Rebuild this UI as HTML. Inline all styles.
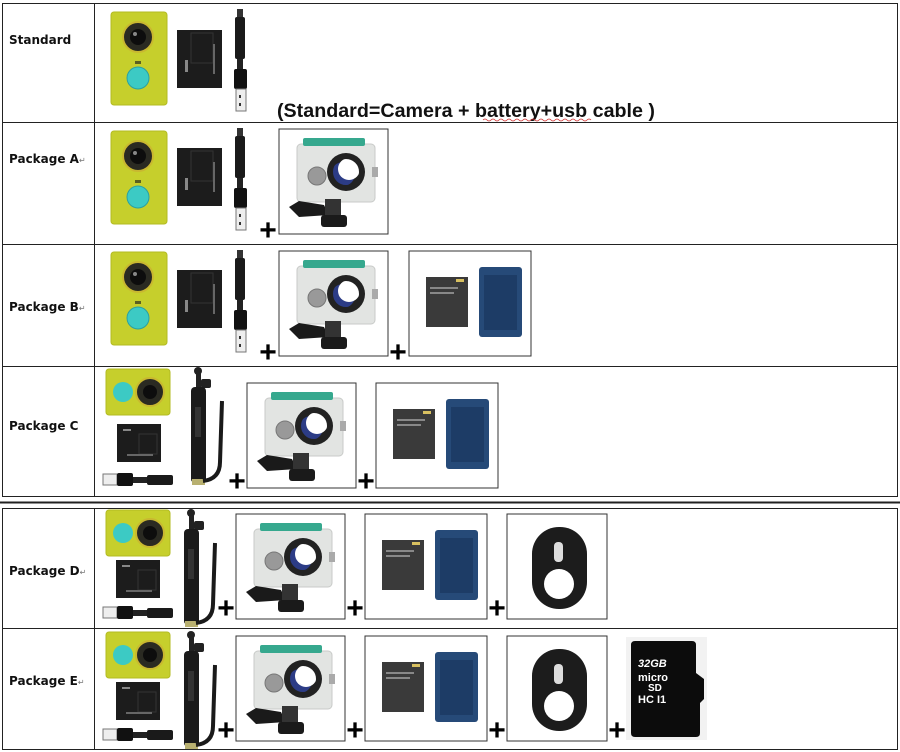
<!DOCTYPE html>
<html><head><meta charset="utf-8"><style>
html,body{margin:0;padding:0;background:#fff;width:900px;height:752px;overflow:hidden}
svg{display:block}
</style></head><body>
<svg width="900" height="752" viewBox="0 0 900 752" xmlns="http://www.w3.org/2000/svg">
<defs>
<g id="camP">
<rect x="0" y="0" width="56" height="93" rx="3" fill="#c6cf2c" stroke="#b3bb22"/>
<circle cx="27" cy="25" r="15" fill="#2a2a22" stroke="#c9b830" stroke-width="2"/>
<circle cx="27" cy="25" r="8" fill="#0d0d0d"/>
<circle cx="24" cy="22" r="2" fill="#888"/>
<circle cx="27" cy="66" r="11" fill="#3ccac4" stroke="#2aa0a0"/>
<rect x="24" y="49" width="6" height="3" fill="#5a6020"/>
</g>
<g id="camL">
<rect x="0" y="0" width="64" height="46" rx="3" fill="#c6cf2c" stroke="#b3bb22"/>
<circle cx="17" cy="23" r="10" fill="#3ccac4"/>
<circle cx="44" cy="23" r="14" fill="#2a2a22" stroke="#c9b830" stroke-width="2"/>
<circle cx="44" cy="23" r="7" fill="#0d0d0d"/>
</g>
<g id="bat">
<rect x="0" y="0" width="45" height="58" fill="#1c1c1c"/>
<rect x="14" y="3" width="22" height="30" fill="none" stroke="#333"/>
<rect x="36" y="14" width="2" height="30" fill="#666"/>
<rect x="8" y="30" width="3" height="12" fill="#888"/>
</g>
<g id="batS">
<rect x="0" y="0" width="44" height="38" fill="#1c1c1c"/>
<rect x="22" y="10" width="18" height="20" fill="none" stroke="#333"/>
<rect x="6" y="5" width="8" height="2" fill="#888"/>
<rect x="10" y="30" width="26" height="2" fill="#666"/>
</g>
<g id="usbV">
<rect x="5" y="0" width="6" height="8" fill="#333"/>
<rect x="3" y="8" width="10" height="42" rx="2" fill="#1a1a1a"/>
<rect x="5" y="50" width="6" height="12" fill="#222"/>
<rect x="2" y="60" width="13" height="20" rx="2" fill="#111"/>
<rect x="4" y="80" width="10" height="22" fill="#eee" stroke="#777"/>
<rect x="7" y="86" width="2" height="3" fill="#333"/><rect x="7" y="94" width="2" height="3" fill="#333"/>
</g>
<g id="usbH">
<rect x="0" y="2" width="14" height="11" fill="#eee" stroke="#777"/>
<rect x="14" y="1" width="16" height="13" rx="2" fill="#111"/>
<rect x="30" y="5" width="14" height="6" fill="#222"/>
<rect x="44" y="3" width="26" height="10" rx="2" fill="#1a1a1a"/>
</g>
<g id="stick">
<circle cx="12" cy="4" r="4" fill="#222"/>
<rect x="10" y="6" width="5" height="14" fill="#222"/>
<rect x="15" y="12" width="10" height="9" rx="2" fill="#222"/>
<rect x="5" y="20" width="15" height="96" rx="4" fill="#1a1a1a"/>
<rect x="9" y="40" width="6" height="30" fill="#333"/>
<rect x="6" y="112" width="13" height="6" fill="#b8b070"/>
<path d="M17 114 Q34 112 34 95 L36 34" fill="none" stroke="#1a1a1a" stroke-width="4"/>
</g>
<g id="housing">
<rect x="0" y="0" width="109" height="105" fill="#fff" stroke="#333"/>
<rect x="18" y="15" width="78" height="58" rx="4" fill="#e2e4e2" stroke="#c8cac8"/>
<rect x="24" y="9" width="62" height="8" rx="2" fill="#36a88e"/>
<circle cx="67" cy="43" r="19" fill="#222"/>
<circle cx="64" cy="45" r="12" fill="#2c3c86"/>
<circle cx="70" cy="40" r="11" fill="#fff"/>
<circle cx="67" cy="43" r="15" fill="none" stroke="#222" stroke-width="4"/>
<circle cx="38" cy="47" r="9" fill="#999" stroke="#777"/>
<rect x="93" y="38" width="6" height="10" fill="#aaa"/>
<path d="M10 78 L20 72 L45 76 L50 86 L20 88 Z" fill="#1a1a1a"/>
<rect x="46" y="70" width="16" height="18" fill="#333"/>
<rect x="42" y="86" width="26" height="12" rx="3" fill="#1a1a1a"/>
</g>
<g id="charger">
<rect x="0" y="0" width="122" height="105" fill="#fff" stroke="#333"/>
<rect x="17" y="26" width="42" height="50" fill="#3a3a3a"/>
<rect x="47" y="28" width="8" height="3" fill="#d8c060"/>
<rect x="21" y="36" width="28" height="2" fill="#888"/><rect x="21" y="41" width="24" height="2" fill="#888"/>
<rect x="70" y="16" width="43" height="70" rx="3" fill="#264a78"/>
<rect x="75" y="24" width="33" height="55" fill="#1d3c66"/>
</g>
<g id="remote">
<rect x="0" y="0" width="100" height="105" fill="#fff" stroke="#333"/>
<rect x="25" y="13" width="55" height="82" rx="27" fill="#1c1c1c"/>
<circle cx="52" cy="70" r="15" fill="#fff"/>
<rect x="47" y="28" width="9" height="20" rx="4" fill="#ddd"/>
</g>
<g id="sd">
<rect x="0" y="0" width="81" height="103" fill="#f2f2f2"/>
<path d="M7 4 H66 Q70 4 70 8 V36 L78 42 V62 L74 66 V96 Q74 100 70 100 H9 Q5 100 5 96 V8 Q5 4 9 4 Z" fill="#0c0c0c"/>
<text x="12" y="30" font-family="Liberation Sans, sans-serif" font-weight="bold" font-style="italic" font-size="11" fill="#fff">32GB</text>
<text x="12" y="44" font-family="Liberation Sans, sans-serif" font-weight="bold" font-size="11" fill="#fff">micro</text>
<text x="22" y="54" font-family="Liberation Sans, sans-serif" font-weight="bold" font-size="10" fill="#fff">SD</text>
<text x="12" y="66" font-family="Liberation Sans, sans-serif" font-weight="bold" font-size="11" fill="#fff">HC I1</text>
</g>
</defs>

<g fill="none" stroke="#222" stroke-width="1">
<rect x="2.5" y="3.5" width="895" height="493"/>
<line x1="94.5" y1="3" x2="94.5" y2="497"/>
<line x1="2" y1="122.5" x2="898" y2="122.5"/>
<line x1="2" y1="244.5" x2="898" y2="244.5"/>
<line x1="2" y1="366.5" x2="898" y2="366.5"/>
<line x1="0" y1="502.5" x2="900" y2="502.5" stroke-width="2"/>
<rect x="2.5" y="508.5" width="895" height="241"/>
<line x1="94.5" y1="508" x2="94.5" y2="750"/>
<line x1="2" y1="628.5" x2="898" y2="628.5"/>
</g>

<g font-family="DejaVu Sans, sans-serif" font-weight="bold" font-size="12" fill="#111">
<text x="9" y="44">Standard</text>
<text x="9" y="163">Package A<tspan font-weight="normal" font-size="8" fill="#777">↵</tspan></text>
<text x="9" y="311">Package B<tspan font-weight="normal" font-size="8" fill="#777">↵</tspan></text>
<text x="9" y="430">Package C</text>
<text x="9" y="575">Package D<tspan font-weight="normal" font-size="8" fill="#777">↵</tspan></text>
<text x="9" y="685">Package E<tspan font-weight="normal" font-size="8" fill="#777">↵</tspan></text>
</g>
<text x="277" y="117" font-family="Liberation Sans, sans-serif" font-weight="bold" font-size="19" textLength="378" lengthAdjust="spacingAndGlyphs" fill="#111">(Standard=Camera + battery+usb cable )</text>
<path d="M483 120 q2 -2 4 0 t4 0 t4 0 t4 0 t4 0 t4 0 t4 0 t4 0 t4 0 t4 0 t4 0 t4 0 t4 0 t4 0 t4 0 t4 0 t4 0 t4 0 t4 0 t4 0 t4 0 t4 0 t4 0 t4 0 t4 0 t4 0 t4 0" fill="none" stroke="#d03030" stroke-width="0.8"/>

<use href="#camP" x="111" y="12"/><use href="#bat" x="177" y="30"/><use href="#usbV" x="232" y="9"/>
<use href="#camP" x="111" y="131"/><use href="#bat" x="177" y="148"/><use href="#usbV" x="232" y="128"/>
<use href="#housing" x="279" y="129"/>
<use href="#camP" x="111" y="252"/><use href="#bat" x="177" y="270"/><use href="#usbV" x="232" y="250"/>
<use href="#housing" x="279" y="251"/><use href="#charger" x="409" y="251"/>
<use href="#camL" x="106" y="369"/><use href="#batS" x="117" y="424"/><use href="#usbH" x="103" y="472"/>
<use href="#stick" x="186" y="367"/>
<use href="#housing" x="247" y="383"/><use href="#charger" x="376" y="383"/>
<use href="#camL" x="106" y="510"/><use href="#batS" x="116" y="560"/><use href="#usbH" x="103" y="605"/>
<use href="#stick" x="179" y="509"/>
<use href="#housing" x="236" y="514"/><use href="#charger" x="365" y="514"/><use href="#remote" x="507" y="514"/>
<use href="#camL" x="106" y="632"/><use href="#batS" x="116" y="682"/><use href="#usbH" x="103" y="727"/>
<use href="#stick" x="179" y="631"/>
<use href="#housing" x="236" y="636"/><use href="#charger" x="365" y="636"/><use href="#remote" x="507" y="636"/>
<use href="#sd" x="626" y="637"/>

<g font-family="Liberation Sans, sans-serif" font-weight="bold" font-size="30" fill="#000" text-anchor="middle">
<text x="268" y="240">+</text>
<text x="268" y="362">+</text><text x="398" y="362">+</text>
<text x="237" y="491">+</text><text x="366" y="491">+</text>
<text x="226" y="618">+</text><text x="355" y="618">+</text><text x="497" y="618">+</text>
<text x="226" y="740">+</text><text x="355" y="740">+</text><text x="497" y="740">+</text><text x="617" y="740">+</text>
</g>
</svg>
</body></html>
